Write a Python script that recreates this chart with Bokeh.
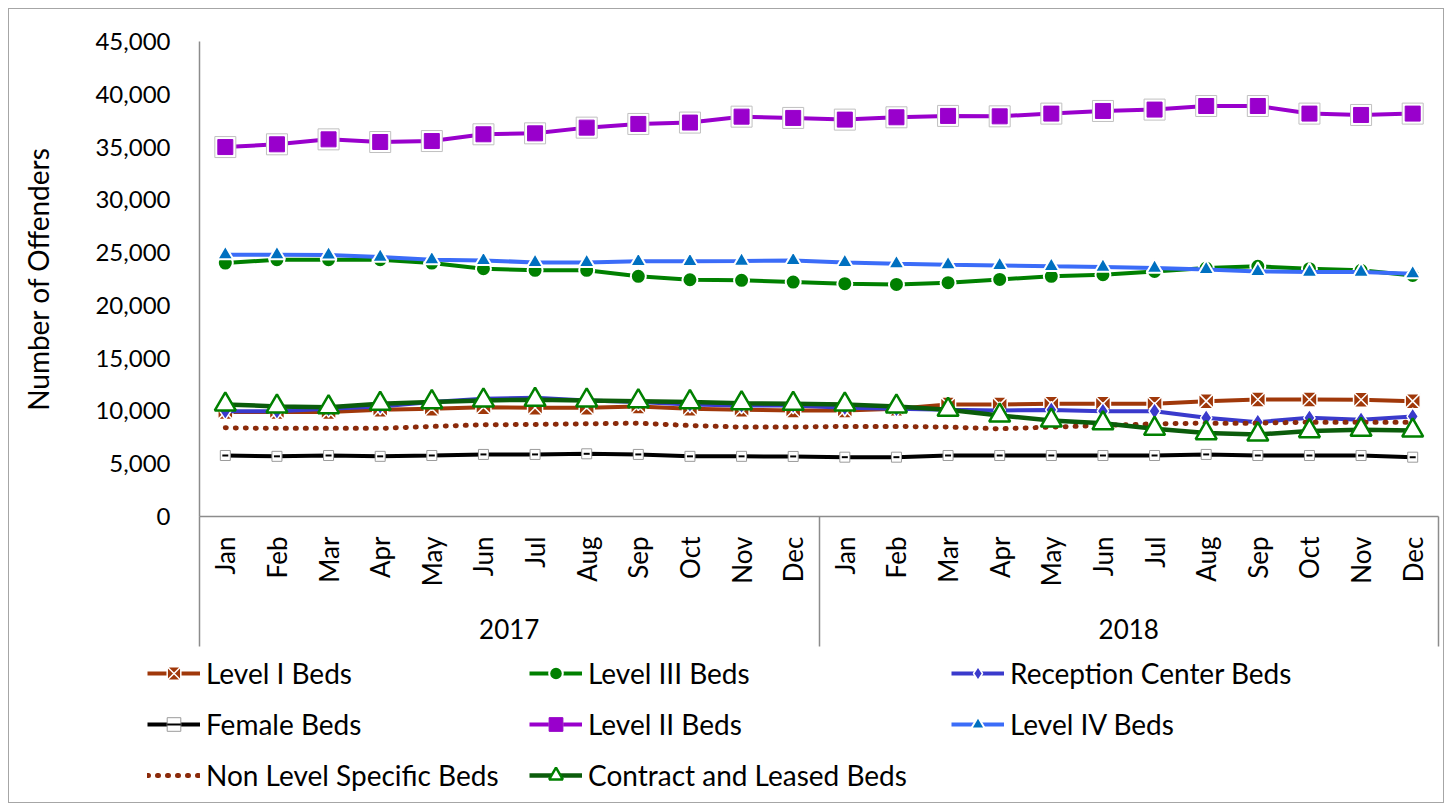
from math import pi
from bokeh.plotting import figure
from bokeh.models import (Range1d, LinearAxis, FixedTicker, NumeralTickFormatter,
                          Legend, LegendItem, ColumnDataSource)
from bokeh.embed import file_html
from bokeh.resources import INLINE

# ---------------- data ----------------
months = ["Jan", "Feb", "Mar", "Apr", "May", "Jun", "Jul", "Aug", "Sep", "Oct", "Nov", "Dec"] * 2
years = ["2017", "2018"]
y_ticks = [0, 5000, 10000, 15000, 20000, 25000, 30000, 35000, 40000, 45000]

level1 = [9890, 9890, 9890, 10110, 10200, 10360, 10300, 10300, 10430, 10200, 10110, 10050,
          10050, 10200, 10620, 10620, 10680, 10680, 10680, 10930, 11090, 11090, 11060, 10930]
level3 = [24010, 24330, 24330, 24330, 24010, 23480, 23320, 23320, 22750, 22430, 22370, 22210,
          22060, 21990, 22150, 22460, 22750, 22910, 23220, 23540, 23700, 23480, 23320, 22840]
reception = [9980, 9980, 10200, 10430, 10840, 11150, 11250, 11000, 10840, 10620, 10520, 10520,
             10300, 10200, 10110, 10050, 10100, 9980, 9980, 9350, 8940, 9350, 9160, 9480]
female = [5780, 5700, 5780, 5700, 5780, 5880, 5880, 5940, 5880, 5700, 5700, 5690,
          5620, 5620, 5780, 5780, 5780, 5780, 5780, 5880, 5780, 5780, 5780, 5620]
level2 = [35000, 35260, 35730, 35480, 35570, 36210, 36300, 36840, 37190, 37320, 37880, 37760,
          37600, 37820, 37950, 37910, 38170, 38420, 38550, 38890, 38890, 38170, 38040, 38170]
level4 = [24800, 24800, 24780, 24580, 24330, 24260, 24070, 24070, 24170, 24170, 24200, 24260,
          24070, 23950, 23860, 23790, 23700, 23630, 23540, 23410, 23220, 23160, 23160, 23000]
nonlevel = [8400, 8350, 8350, 8350, 8530, 8690, 8720, 8780, 8840, 8620, 8470, 8470,
            8530, 8530, 8470, 8310, 8470, 8620, 8780, 8840, 8840, 8940, 8940, 8940]
contract = [10620, 10430, 10360, 10680, 10840, 11000, 11060, 11000, 10930, 10840, 10740, 10680,
            10620, 10430, 10110, 9570, 9100, 8840, 8310, 7900, 7770, 8090, 8220, 8150]

# legend columns as in the reference (left, middle, right)
legend_cols = [["Level I Beds", "Female Beds", "Non Level Specific Beds"],
               ["Level III Beds", "Level II Beds", "Contract and Leased Beds"],
               ["Reception Center Beds", "Level IV Beds"]]

# ---------------- styles ----------------
FONT = "Lato"
AX = "#8c8c8c"
BORDER = "1px solid #a6a6a6"
STYLE = {
    "Level I Beds": dict(line=dict(line_color="#A0380A", line_width=4),
                         marks=[dict(marker="square_x", size=15, fill_color="#A0380A",
                                     line_color="white", line_width=1.5)]),
    "Level III Beds": dict(line=dict(line_color="#008000", line_width=4),
                           marks=[dict(marker="circle", size=15, fill_color="#008000",
                                       line_color="white", line_width=2)]),
    "Reception Center Beds": dict(line=dict(line_color="#3A3ACC", line_width=4),
                                  marks=[dict(marker="diamond", size=17, fill_color="#3A3ACC",
                                              line_color="white", line_width=1.5)]),
    "Female Beds": dict(line=dict(line_color="black", line_width=4),
                        marks=[dict(marker="square", size=10, fill_color="white",
                                    line_color="#9a9a9a", line_width=1),
                               dict(marker="dash", size=6, line_color="black", line_width=2)]),
    "Level II Beds": dict(line=dict(line_color="#9900CC", line_width=4),
                          marks=[dict(marker="square", size=21, fill_color="white",
                                      line_color="#c0c0c0", line_width=1),
                                 dict(marker="square", size=15, fill_color="#9900CC",
                                      line_color="#9900CC", line_width=1)]),
    "Level IV Beds": dict(line=dict(line_color="#3B6CF8", line_width=4),
                          marks=[dict(marker="triangle", size=16, fill_color="#0070C0",
                                      line_color="white", line_width=2)]),
    "Non Level Specific Beds": dict(line=dict(line_color="#8B2A0A", line_width=5,
                                              line_dash="1 9", line_cap="round"),
                                    marks=[]),
    "Contract and Leased Beds": dict(line=dict(line_color="#0B5C0B", line_width=4.5),
                                     marks=[dict(marker="triangle", size=21, fill_color="white",
                                                 line_color="#008000", line_width=2.5)]),
}
# drawing order (series order; last drawn on top)
draw_order = [("Level I Beds", level1), ("Level III Beds", level3),
              ("Reception Center Beds", reception), ("Female Beds", female),
              ("Level II Beds", level2), ("Level IV Beds", level4),
              ("Non Level Specific Beds", nonlevel), ("Contract and Leased Beds", contract)]

# ---------------- main figure ----------------
n = len(months)
xs = [i + 0.5 for i in range(n)]

p = figure(width=1436, height=645, output_backend="svg", toolbar_location=None,
           x_range=Range1d(0, n), y_range=Range1d(0, 45000),
           x_axis_type=None, y_axis_type=None,
           min_border_left=190, min_border_right=7, min_border_top=32, min_border_bottom=138,
           background_fill_color="white", border_fill_color="white")
p.outline_line_color = None
p.styles = {"border": BORDER, "border-bottom": "none", "margin-left": "8px", "margin-top": "8px"}

yaxis = LinearAxis(ticker=FixedTicker(ticks=y_ticks), formatter=NumeralTickFormatter(format="0,0"),
                   axis_label="Number of Offenders",
                   major_tick_out=0, major_tick_in=0, minor_tick_out=0, minor_tick_in=0,
                   axis_line_color=AX, axis_line_width=1.5,
                   major_label_standoff=29, axis_label_standoff=37,
                   major_label_text_font=FONT, major_label_text_font_size="24px",
                   major_label_text_color="black",
                   axis_label_text_font=FONT, axis_label_text_font_size="28px",
                   axis_label_text_font_style="normal", axis_label_text_color="black")
p.add_layout(yaxis, "left")

# month axis; its long minor ticks are the year separators
xaxis = LinearAxis(ticker=FixedTicker(ticks=xs, minor_ticks=[0, 12, 24]),
                   major_label_overrides={x: m for x, m in zip(xs, months)},
                   major_label_orientation=pi / 2,
                   major_tick_out=0, major_tick_in=0,
                   minor_tick_out=130, minor_tick_in=0,
                   minor_tick_line_color=AX, minor_tick_line_width=1.5,
                   axis_line_color=AX, axis_line_width=1.5,
                   major_label_standoff=-110,
                   major_label_text_font=FONT, major_label_text_font_size="26px",
                   major_label_text_color="black")
p.add_layout(xaxis, "below")

year_pos = [6, 18]
yearaxis = LinearAxis(ticker=FixedTicker(ticks=year_pos),
                      major_label_overrides={yp: yr for yp, yr in zip(year_pos, years)},
                      axis_line_color=None, major_tick_line_color=None, minor_tick_line_color=None,
                      major_tick_out=0, major_tick_in=0, minor_tick_out=0, minor_tick_in=0,
                      major_label_standoff=29,
                      major_label_text_font=FONT, major_label_text_font_size="26px",
                      major_label_text_color="black")
p.add_layout(yearaxis, "below")

src = ColumnDataSource(dict(x=xs, **{nm: vals for nm, vals in draw_order}))
for nm, vals in draw_order:
    st = STYLE[nm]
    p.line("x", nm, source=src, **st["line"])
    for mk in st["marks"]:
        p.scatter("x", nm, source=src, **mk)

# ---------------- legend strip (separate root, no frame alignment) ----------------
pleg = figure(width=1436, height=150, output_backend="svg", toolbar_location=None,
              x_range=Range1d(0, n), y_range=Range1d(0, 1),
              x_axis_type=None, y_axis_type=None, min_border=0,
              background_fill_color="white", border_fill_color="white")
pleg.outline_line_color = None
pleg.styles = {"border": BORDER, "border-top": "none", "margin-left": "8px"}

# same series drawn in the strip, where they fall outside its y range (only the legend shows)
leg_renderers = {}
for nm, _ in draw_order:
    st = STYLE[nm]
    rs = [pleg.line("x", nm, source=src, **st["line"])]
    for mk in st["marks"]:
        rs.append(pleg.scatter("x", nm, source=src, **mk))
    leg_renderers[nm] = rs

col_x = [138, 520, 942]
for names, lx in zip(legend_cols, col_x):
    h = len(names) * 34 + (len(names) - 1) * 17
    ly = 150 - 3 - h
    leg = Legend(items=[LegendItem(label=nm, renderers=leg_renderers[nm]) for nm in names],
                 location=(lx, ly), orientation="vertical",
                 glyph_width=53, glyph_height=34, label_height=34, spacing=17,
                 label_standoff=6, padding=0, margin=0,
                 border_line_color=None, background_fill_alpha=0,
                 label_text_font=FONT, label_text_font_size="28px", label_text_color="black")
    pleg.add_layout(leg, "center")

open("out.html", "w").write(file_html([p, pleg], INLINE))
